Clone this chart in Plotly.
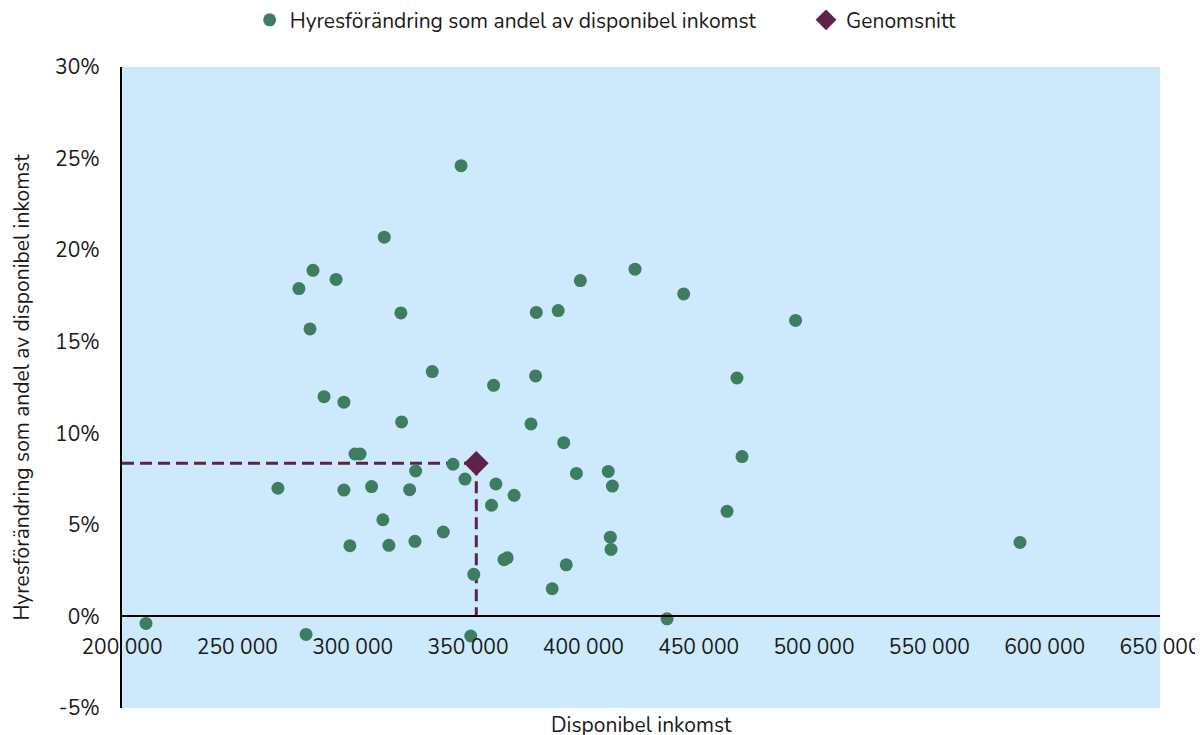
import plotly.graph_objects as go

# Data (disponibel inkomst, hyresförändring i % av disponibel inkomst)
income = [210400, 267600, 276700, 279800, 282800, 281500, 287600, 292800, 296200, 296200,
          298800, 301000, 303200, 308200, 313100, 313700, 315700, 320900, 321200, 324700,
          327300, 327000, 334500, 339300, 343500, 347000, 348700, 352500, 351200, 361100,
          362100, 360200, 370000, 365600, 367000, 377300, 379300, 379600, 386500, 389100,
          391500, 392600, 397000, 398700, 410800, 412600, 411700, 412000, 422400, 436300,
          443500, 462300, 466600, 468800, 492000, 589300]
share = [-0.38, 7.0, 17.9, -0.98, 18.9, 15.7, 12.0, 18.4, 11.7, 6.9,
         3.86, 8.87, 8.87, 7.09, 5.28, 20.71, 3.88, 16.57, 10.62, 6.92,
         7.94, 4.1, 13.37, 4.61, 8.31, 24.61, 7.5, 2.3, -1.07, 12.62,
         7.23, 6.07, 6.61, 3.1, 3.2, 10.51, 13.13, 16.6, 1.51, 16.7,
         9.49, 2.82, 7.81, 18.34, 7.92, 7.12, 4.33, 3.66, 18.96, -0.13,
         17.61, 5.74, 13.02, 8.73, 16.16, 4.04]
avg_income = [353600]
avg_share = [8.36]

x_range = [200000, 650000]
y_range = [-5, 30]
y_tick_vals = [-5, 0, 5, 10, 15, 20, 25, 30]
y_tick_text = ["-5%", "0%", "5%", "10%", "15%", "20%", "25%", "30%"]

series_name = "Hyresförändring som andel av disponibel inkomst"
avg_name = "Genomsnitt"

GREEN = "#3F7D63"
PURPLE = "#5E2248"
FONT = "Nunito, Lato, 'Open Sans', sans-serif"

fig = go.Figure()

# dashed guide lines to the average
fig.add_trace(go.Scatter(
    x=[x_range[0], avg_income[0]], y=[avg_share[0], avg_share[0]],
    mode="lines", line=dict(color=PURPLE, width=3, dash="12px,6px"),
    showlegend=False, hoverinfo="skip"))
fig.add_trace(go.Scatter(
    x=[avg_income[0], avg_income[0]], y=[avg_share[0], 0],
    mode="lines", line=dict(color=PURPLE, width=3, dash="12px,6px"),
    showlegend=False, hoverinfo="skip"))

fig.add_trace(go.Scatter(
    x=income, y=share, mode="markers", name=series_name, legend="legend",
    marker=dict(color=GREEN, size=13, symbol="circle")))
fig.add_trace(go.Scatter(
    x=avg_income, y=avg_share, mode="markers", name=avg_name, legend="legend2",
    marker=dict(color=PURPLE, size=19, symbol="diamond")))

zero_pos = (0 - y_range[0]) / (y_range[1] - y_range[0])

legend_style = dict(orientation="h", xanchor="left", y=1.073, yanchor="middle",
                    font=dict(size=21), itemwidth=30, bgcolor="rgba(0,0,0,0)")

# page body adds ~8px offset, so the figure is shrunk by that amount
fig.update_layout(
    width=1195, height=727,
    margin=dict(l=114, r=43, t=59, b=27, autoexpand=False),
    paper_bgcolor="white",
    plot_bgcolor="#CCEAFB",
    separators=", ",
    font=dict(family=FONT, size=21, color="#1a1a1a"),
    legend=dict(x=0.123, **legend_style),
    legend2=dict(x=0.659, **legend_style),
    xaxis=dict(range=x_range, dtick=50000, tickformat=",d", showgrid=False,
               zeroline=False, showline=True, linecolor="black", linewidth=2,
               anchor="free", position=zero_pos, ticks="outside", ticklen=11,
               tickcolor="rgba(0,0,0,0)", tickfont=dict(size=21)),
    yaxis=dict(range=y_range, tickvals=y_tick_vals, ticktext=y_tick_text, showgrid=False,
               zeroline=False, showline=True, linecolor="black", linewidth=2,
               ticks="outside", ticklen=16, tickcolor="rgba(0,0,0,0)",
               title=dict(text="Hyresförändring som andel av disponibel inkomst",
                          font=dict(size=21), standoff=22),
               tickfont=dict(size=21)),
    annotations=[dict(text="Disponibel inkomst", xref="paper", yref="paper",
                      x=0.5, y=0, yanchor="top", yshift=-1, showarrow=False,
                      font=dict(size=21))],
)

fig.write_html("out.html")
